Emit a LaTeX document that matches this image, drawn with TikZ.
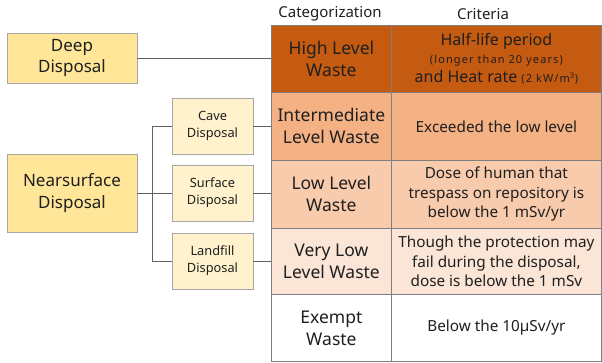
\documentclass[tikz,border=0pt]{standalone}
\usepackage{fontspec}
\setmainfont{Noto Sans}
\definecolor{hlw}{HTML}{C55A11}
\definecolor{ilw}{HTML}{F4B183}
\definecolor{llw}{HTML}{F8CBAD}
\definecolor{vllw}{HTML}{FBE5D6}
\definecolor{bigbox}{HTML}{FFE699}
\definecolor{smallbox}{HTML}{FFF2CC}
\definecolor{tline}{HTML}{7F7F7F}
\definecolor{bline}{HTML}{A6A6A6}
\definecolor{txt}{HTML}{1F1F1F}
\newcommand{\smallnote}[1]{{\fontsize{11}{13}\selectfont\addfontfeature{LetterSpace=10}#1}}
\begin{document}
\begin{tikzpicture}[x=1pt,y=-1pt,
  cell/.style={draw=tline, line width=0.8pt, anchor=north west, inner sep=0pt, align=center, text=txt},
  catcell/.style={cell, minimum width=120pt, font=\fontsize{17.5}{22}\selectfont},
  critcell/.style={cell, minimum width=210pt, font=\fontsize{15.3}{19.5}\selectfont},
  bigdisp/.style={draw=bline, line width=0.8pt, fill=bigbox, minimum width=130pt, inner sep=0pt, align=center, text=txt, font=\fontsize{17}{21.5}\selectfont},
  smalldisp/.style={draw=bline, line width=0.8pt, fill=smallbox, minimum width=81pt, minimum height=56pt, inner sep=0pt, align=center, text=txt, font=\fontsize{12.8}{17}\selectfont},
  conn/.style={draw=gray!75!black, line width=0.7pt},
  head/.style={text=txt, font=\fontsize{15}{18}\selectfont}]
\useasboundingbox (0,0) rectangle (602,363);
% headers
\node[head] (h1) at (330,14) {Categorization};
\node[head] (h2) at (483,14) {Criteria};
% table
\node[catcell, fill=hlw, minimum height=67pt] (a1) at (271,25) {High Level\\Waste};
\node[critcell, fill=hlw, minimum height=67pt] (b1) at (391,25) {{\fontsize{16}{18}\selectfont Half-life period}\\[-2pt]\smallnote{(longer than 20 years)}\\[0pt]{\fontsize{16}{18}\selectfont and Heat rate} \smallnote{(2 kW/m\textsuperscript{3})}};
\node[catcell, fill=ilw, minimum height=68pt] (a2) at (271,92) {Intermediate\\Level Waste};
\node[critcell, fill=ilw, minimum height=68pt] (b2) at (391,92) {Exceeded the low level};
\node[catcell, fill=llw, minimum height=68pt] (a3) at (271,160) {Low Level\\Waste};
\node[critcell, fill=llw, minimum height=68pt] (b3) at (391,160) {Dose of human that\\trespass on repository is\\below the 1 mSv/yr};
\node[catcell, fill=vllw, minimum height=66pt] (a4) at (271,228) {Very Low\\Level Waste};
\node[critcell, fill=vllw, minimum height=66pt] (b4) at (391,228) {Though the protection may\\fail during the disposal,\\dose is below the 1 mSv};
\node[catcell, fill=white, minimum height=67pt] (a5) at (271,294) {Exempt\\Waste};
\node[critcell, fill=white, minimum height=67pt] (b5) at (391,294) {Below the 10µSv/yr};
% disposal boxes
\node[bigdisp, minimum height=50pt] (deep) at (72,58) {Deep\\Disposal};
\node[bigdisp, minimum height=78pt] (near) at (72,193) {Nearsurface\\Disposal};
\node[smalldisp] (cave) at (212.5,126) {Cave\\Disposal};
\node[smalldisp] (surf) at (212.5,193) {Surface\\Disposal};
\node[smalldisp] (land) at (212.5,261) {Landfill\\Disposal};
\coordinate (split) at (152,126);
% connectors
\draw[conn] (deep.east) -- (deep.east -| a1.west);
\draw[conn] (near.east) -- (surf.west);
\draw[conn] (cave.west) -- (split) |- (land.west);
\draw[conn] (cave.east) -- (cave.east -| a2.west);
\draw[conn] (surf.east) -- (surf.east -| a3.west);
\draw[conn] (land.east) -- (land.east -| a4.west);
\end{tikzpicture}
\end{document}
